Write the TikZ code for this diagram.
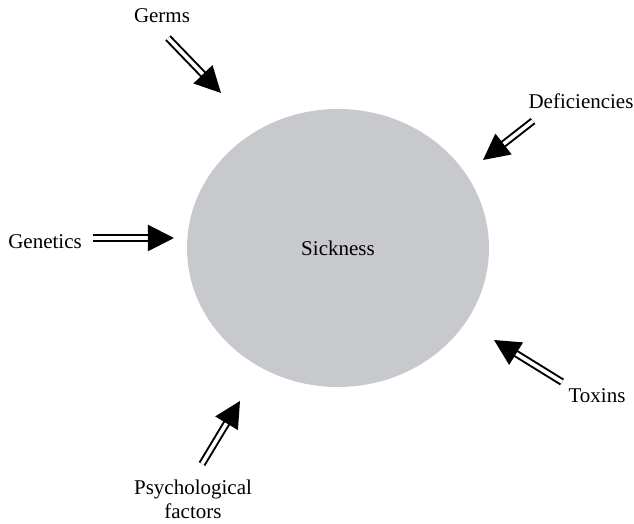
\documentclass[tikz,border=0pt]{standalone}
\usepackage{fontspec}
\setmainfont{Liberation Serif}
\usepackage{tikz}
\usetikzlibrary{arrows.meta,shapes.geometric}
\definecolor{sickGray}{RGB}{200,201,204}
\tikzstyle{myLabel}=[font=\fontsize{10.5pt}{12pt}\selectfont, inner sep=1pt, align=center]
\tikzstyle{myCircle}=[ellipse, fill=sickGray, inner sep=0pt, minimum width=151pt, minimum height=139pt, font=\fontsize{10.5pt}{12pt}\selectfont]
\tikzstyle{myPath} = [-{Triangle[length=13pt,width=13pt]}, double, double distance=1.8pt, line width=1pt, black]

\begin{document}
\begin{tikzpicture}[x=0.5pt, y=-0.5pt]
   \useasboundingbox (0,0) rectangle (634,524);
   \node[myCircle] (sickness) at (338,248) {Sickness};

   \node[myLabel] (germs) at (162,16) {Germs};
   \node[myLabel] (deficiencies) at (581,101) {Deficiencies};
   \node[myLabel] (genetics) at (45,242) {Genetics};
   \node[myLabel] (toxins) at (597,396) {Toxins};
   \node[myLabel] (psych) at (193,499) {Psychological\\factors};

   \coordinate (germsTail) at (168,38);
   \coordinate (germsTip) at (221,93);
   \coordinate (deficienciesTail) at (533,121);
   \coordinate (deficienciesTip) at (483,160);
   \coordinate (geneticsTail) at (93,238);
   \coordinate (geneticsTip) at (174,238);
   \coordinate (toxinsTail) at (562,382);
   \coordinate (toxinsTip) at (494,340);
   \coordinate (psychTail) at (202,464);
   \coordinate (psychTip) at (240,401);

   % Draw the arrows pointing at the circle
   \draw[myPath] (germsTail) -- (germsTip);
   \draw[myPath] (deficienciesTail) -- (deficienciesTip);
   \draw[myPath] (geneticsTail) -- (geneticsTip);
   \draw[myPath] (toxinsTail) -- (toxinsTip);
   \draw[myPath] (psychTail) -- (psychTip);

\end{tikzpicture}
\end{document}
